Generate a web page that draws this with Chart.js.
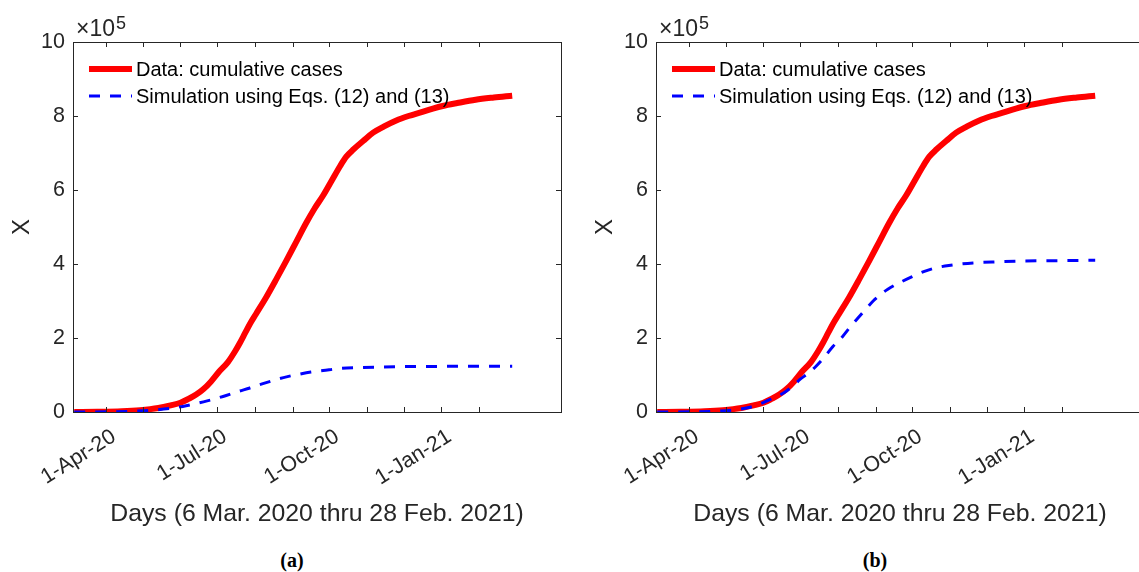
<!DOCTYPE html>
<html>
<head>
<meta charset="utf-8">
<script src="https://cdn.jsdelivr.net/npm/chart.js@4.4.1/dist/chart.umd.min.js"></script>
<style>
  html, body { margin: 0; padding: 0; background: #fff; overflow: hidden; width: 1139px; height: 572px; }
  .panel { position: absolute; top: 0; width: 600px; height: 530px; }
  .cap { position: absolute; top: 549px; width: 60px; text-align: center; font: bold 20px "Liberation Serif", serif; color: #000; }
</style>
</head>
<body>
<div class="panel" style="left:0px"><canvas id="chartA" width="600" height="530"></canvas></div>
<div class="panel" style="left:583px"><canvas id="chartB" width="600" height="530"></canvas></div>
<div class="cap" style="left:262px">(a)</div>
<div class="cap" style="left:845px">(b)</div>
<script>
// day 1 = 6 Mar 2020
const monthTicks = [27, 57, 88, 118, 149, 180, 210, 241, 271, 302, 333];
const monthLabels = { 27: "1-Apr-20", 118: "1-Jul-20", 210: "1-Oct-20", 302: "1-Jan-21" };
const yTicks = [0, 200000, 400000, 600000, 800000, 1000000];

const legendNames = ["Data: cumulative cases", "Simulation using Eqs. (12) and (13)"];

// reported cumulative cases
const dataDays = [1, 20, 40, 55, 70, 80, 88, 95, 101, 107, 113, 120, 127, 133, 137, 141, 145, 150, 158, 166,
  175, 183, 191, 198, 205, 212, 219, 224, 230, 238, 246, 255, 265, 275, 285, 295, 303, 315, 330, 345, 360];
const dataCases = [0, 500, 2000, 5000, 11000, 18000, 25000, 36000, 47000, 62000, 82000, 110000, 135000, 165000,
  188000, 213000, 238000, 265000, 308000, 355000, 410000, 460000, 510000, 550000, 585000, 625000, 665000,
  690000, 710000, 733000, 755000, 772000, 788000, 800000, 810000, 820000, 827000, 835000, 844000, 850000, 855000];

// model run (a)
const simDaysA = [1, 30, 50, 65, 80, 90, 100, 110, 123, 135, 145, 155, 165, 175, 185, 195, 205, 220, 235, 250,
  265, 290, 320, 360];
const simCasesA = [0, 500, 2000, 5000, 10000, 15000, 22000, 30000, 42000, 55000, 65000, 76000, 86000, 95000,
  102000, 108000, 112000, 118000, 120000, 121500, 122500, 123000, 123500, 123500];

// model run (b)
const simDaysB = [1, 30, 50, 65, 76, 87, 95, 101, 107, 113, 118, 125, 131, 138, 145, 152, 158, 165, 172, 178,
  185, 190, 200, 210, 220, 230, 240, 260, 280, 300, 330, 360];
const simCasesB = [0, 500, 2000, 6000, 12000, 24000, 36000, 45000, 57000, 72000, 88000, 105000, 123000, 148000,
  177000, 200000, 225000, 252000, 278000, 300000, 320000, 332000, 350000, 366000, 380000, 390000, 396000,
  403000, 406000, 408000, 409000, 410000];

const ink = "#262626";
const sans = "'Liberation Sans', Arial, Helvetica, sans-serif";

function points(xs, ys) {
  return xs.map((d, i) => ({ x: d, y: ys[i] }));
}

// box, inward ticks, exponent and legend drawn the MATLAB way
const axesDecor = {
  id: "axesDecor",
  afterDatasetsDraw(chart) {
    const { ctx, chartArea: a, scales } = chart;
    ctx.save();
    ctx.strokeStyle = ink;
    ctx.lineWidth = 1;
    ctx.setLineDash([]);
    ctx.strokeRect(a.left + 0.5, a.top + 0.5, a.right - a.left, a.bottom - a.top);
    ctx.beginPath();
    scales.x.ticks.forEach(t => {
      const px = Math.round(scales.x.getPixelForValue(t.value)) + 0.5;
      ctx.moveTo(px, a.bottom); ctx.lineTo(px, a.bottom - 5);
      ctx.moveTo(px, a.top); ctx.lineTo(px, a.top + 5);
    });
    scales.y.ticks.forEach(t => {
      const py = Math.round(scales.y.getPixelForValue(t.value)) + 0.5;
      ctx.moveTo(a.left, py); ctx.lineTo(a.left + 5, py);
      ctx.moveTo(a.right, py); ctx.lineTo(a.right - 5, py);
    });
    ctx.stroke();

    // x10^5 multiplier
    ctx.fillStyle = ink;
    ctx.textBaseline = "alphabetic";
    ctx.textAlign = "left";
    ctx.font = "23px " + sans;
    ctx.fillText("\u00d710", a.left + 3, 36);
    const w = ctx.measureText("\u00d710").width;
    ctx.font = "18px " + sans;
    ctx.fillText("5", a.left + 4 + w, 29);

    // legend
    const sets = chart.data.datasets;
    legendNames.forEach((name, i) => {
      const ds = sets.find(d => d.label === name);
      const y = 69 + i * 27;
      ctx.strokeStyle = ds.borderColor;
      ctx.lineWidth = ds.borderWidth;
      ctx.setLineDash(ds.borderDash || []);
      ctx.lineCap = "butt";
      ctx.beginPath();
      ctx.moveTo(a.left + 16, y);
      ctx.lineTo(a.left + 59, y);
      ctx.stroke();
      ctx.setLineDash([]);
      ctx.fillStyle = "#000";
      ctx.font = "20px " + sans;
      ctx.textBaseline = "middle";
      ctx.fillText(name, a.left + 63, y + 1);
    });
    ctx.restore();
  }
};

function makeChart(id, simDays, simCases) {
  return new Chart(document.getElementById(id), {
    type: "line",
    data: {
      datasets: [
        {
          label: legendNames[0],
          data: points(dataDays, dataCases),
          borderColor: "#ff0000",
          borderWidth: 6,
          pointRadius: 0,
          cubicInterpolationMode: "monotone",
          order: 2
        },
        {
          label: legendNames[1],
          data: points(simDays, simCases),
          borderColor: "#0000ff",
          borderWidth: 3,
          borderDash: [11, 10],
          pointRadius: 0,
          cubicInterpolationMode: "monotone",
          order: 1
        }
      ]
    },
    options: {
      responsive: false,
      animation: false,
      layout: { padding: { top: 42, right: 39, left: 0, bottom: 0 } },
      plugins: {
        legend: { display: false },
        tooltip: { enabled: false }
      },
      scales: {
        x: {
          type: "linear",
          min: 0,
          max: 400,
          afterBuildTicks: s => { s.ticks = monthTicks.map(v => ({ value: v })); },
          afterFit: s => { s.height = 118; },
          grid: { display: false, drawTicks: false },
          border: { display: false },
          ticks: {
            autoSkip: false,
            minRotation: 32,
            maxRotation: 32,
            padding: 12,
            labelOffset: 8,
            color: ink,
            font: { family: sans, size: 21.5 },
            callback: v => monthLabels[v] || ""
          },
          title: {
            display: true,
            text: "Days (6 Mar. 2020 thru 28 Feb. 2021)",
            color: ink,
            font: { family: sans, size: 24.8 },
            padding: { top: 0, bottom: 1 }
          }
        },
        y: {
          min: 0,
          max: 1000000,
          afterBuildTicks: s => { s.ticks = yTicks.map(v => ({ value: v })); },
          afterFit: s => { s.width = 73; },
          grid: { display: false, drawTicks: false },
          border: { display: false },
          ticks: {
            padding: 8,
            color: ink,
            font: { family: sans, size: 21.5 },
            callback: v => String(v / 100000)
          },
          title: {
            display: true,
            text: "X",
            color: ink,
            font: { family: sans, size: 24 },
            padding: { top: 8, bottom: 0 }
          }
        }
      }
    },
    plugins: [axesDecor]
  });
}

makeChart("chartA", simDaysA, simCasesA);
makeChart("chartB", simDaysB, simCasesB);
</script>
</body>
</html>
